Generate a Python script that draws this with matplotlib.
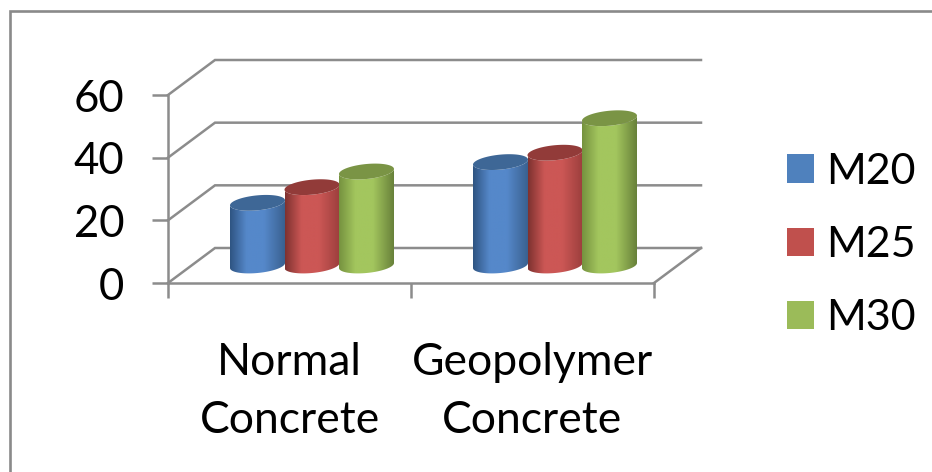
#!/usr/bin/env python3
"""Pseudo-3D cylinder bar chart, concrete grades M20/M25/M30."""

import matplotlib
matplotlib.use("Agg")
import matplotlib.pyplot as plt
import numpy as np
from matplotlib.colors import LinearSegmentedColormap
from matplotlib.patches import Patch, Polygon

categories = ["Normal\nConcrete", "Geopolymer\nConcrete"]
series_names = ["M20", "M25", "M30"]
m20 = [20, 33]
m25 = [25, 36]
m30 = [30, 47]
y_ticks = [0, 20, 40, 60]

W, H = 932, 472
GRID = "#8c8c8c"

# front plane of the box in pixels
LEFT, RIGHT, BOTTOM, TOP = 168, 654, 283, 95
PX_X = 2 / (RIGHT - LEFT)
PX_Y = 60 / (BOTTOM - TOP)

# depth of the box, in data units
DX = 47 * PX_X
DY = 35 * PX_Y

BAR_W = 54.5 * PX_X
A = 27.5 * PX_X
B = 7.5 * PX_Y
TILT = 2.5 * PX_Y

# (dark left, lit middle, dark right, top cap, legend)
styles = [
    ("#2f5482", "#5588ca", "#3a6190", "#3e6796", "#4f81bd"),
    ("#7e3230", "#cc5755", "#9c3f3d", "#923b39", "#c0504d"),
    ("#76923f", "#a3c65e", "#68813a", "#7a9445", "#9bbb59"),
]


def ellipse(cx, cy, t):
    return cx + A * np.cos(t), cy + B * np.sin(t) + TILT * np.cos(t)


def draw_cylinder(ax, cx, base, value, style, z):
    left, mid, right, cap, _ = style
    top = base + value

    # body outline: top edge then lower front arc of the base
    t = np.linspace(np.pi, 2 * np.pi, 60)
    xb, yb = ellipse(cx, base, t)
    xt, yt = ellipse(cx, top, t[::-1])
    outline = Polygon(np.column_stack([np.r_[xb, xt], np.r_[yb, yt]]),
                      closed=True, transform=ax.transData, fc="none", ec="none")
    ax.add_patch(outline)

    cmap = LinearSegmentedColormap.from_list(
        "c", [(0, left), (0.3, mid), (0.62, mid), (1, right)])
    grad = np.linspace(0, 1, 128).reshape(1, -1)
    ymin, ymax = base - B - TILT, top + B + TILT
    im = ax.imshow(grad, cmap=cmap, aspect="auto", zorder=z, interpolation="bilinear",
                   extent=[cx - A, cx + A, ymin, ymax], clip_on=True)
    im.set_clip_path(outline)

    t = np.linspace(0, 2 * np.pi, 100)
    xc, yc = ellipse(cx, top, t)
    ax.fill(xc, yc, color=cap, lw=0, zorder=z + 0.5, clip_on=False)


fig = plt.figure(figsize=(W / 100, H / 100), dpi=100)
plt.rcParams["font.family"] = ["Lato", "DejaVu Sans"]

# outer frame of the pasted chart
fig.add_artist(plt.Line2D([10 / W, 10 / W, 1], [0, 1 - 11.2 / H, 1 - 11.2 / H],
                          color="#8a8a8a", lw=1.9, solid_joinstyle="miter"))

ax = fig.add_axes([LEFT / W, 1 - BOTTOM / H, (RIGHT - LEFT) / W, (BOTTOM - TOP) / H])
ax.set_facecolor("none")

# back wall, side wall and floor
for v in y_ticks:
    ax.plot([0, DX, 2 + DX], [v, v + DY, v + DY], color=GRID, lw=1.8, zorder=1,
            clip_on=False, solid_joinstyle="miter")
ax.plot([2, 2 + DX], [0, DY], color=GRID, lw=1.8, zorder=1, clip_on=False)

for i in range(len(categories)):
    values = [m20[i], m25[i], m30[i]]
    for j, val in enumerate(values):
        cx = i + 0.5 + 22.5 * PX_X + (j - 1) * BAR_W
        draw_cylinder(ax, cx, DY / 2, val, styles[j], 3 + j)

ax.set_xlim(0, 2)
ax.set_ylim(0, 60)

for s in ["top", "right"]:
    ax.spines[s].set_visible(False)
for s in ["left", "bottom"]:
    ax.spines[s].set_color(GRID)
    ax.spines[s].set_linewidth(1.8)

ax.set_yticks(y_ticks)
ax.set_xticks([0, 1, 2])
ax.set_xticklabels([])
ax.set_xticks([0.5, 1.5], minor=True)
ax.set_xticklabels(categories, minor=True, fontsize=32, linespacing=1.52)
ax.tick_params(axis="x", which="major", length=10.5, width=1.8, color=GRID)
ax.tick_params(axis="x", which="minor", length=0, pad=42.5)
ax.tick_params(axis="y", length=11.5, width=1.8, color=GRID, labelsize=31.5, pad=20)

handles = [Patch(color=st[4], lw=0) for st in styles]
fig.legend(handles, series_names, loc="center left",
           bbox_to_anchor=(774 / W, 1 - 245 / H), frameon=False, fontsize=31,
           handlelength=0.63, handleheight=0.63, handletextpad=0.27,
           labelspacing=0.82, borderpad=0.3, borderaxespad=0)

fig.savefig("out.png", dpi=100)
